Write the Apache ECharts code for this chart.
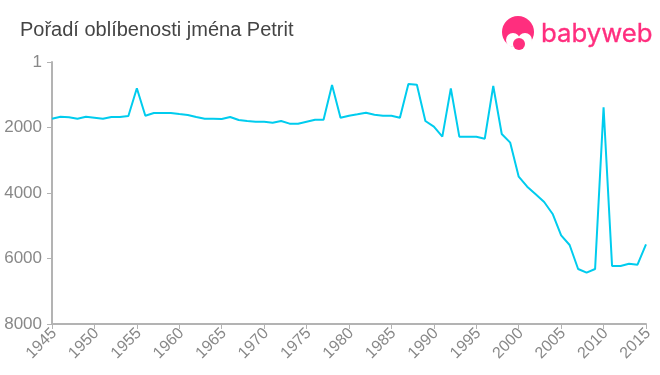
<!DOCTYPE html>
<html>
<head>
<meta charset="utf-8">
<style>
  html, body { margin: 0; padding: 0; background: #fff; }
  #chart { width: 660px; height: 375px; }
</style>
<script src="https://cdn.jsdelivr.net/npm/echarts@6/dist/echarts.min.js"></script>
</head>
<body>
<div id="chart"></div>
<script>
const years = [];
for (let y = 1945; y <= 2015; y++) years.push(String(y));

const ranks = [
  1731, 1670, 1689, 1731, 1670, 1700, 1731, 1679, 1679, 1649,
  803, 1639, 1557, 1557, 1557, 1588, 1618, 1679, 1731, 1731,
  1740, 1679, 1771, 1802, 1822, 1828, 1853, 1802, 1883, 1883,
  1822, 1761, 1761, 702, 1700, 1639, 1598, 1547, 1608, 1639,
  1639, 1700, 672, 692, 1802, 1975, 2280, 803, 2280, 2280,
  2280, 2341, 733, 2198, 2463, 3501, 3807, 4041, 4275, 4641,
  5292, 5588, 6321, 6433, 6321, 1384, 6229, 6229, 6158, 6188,
  5567,
];

const title = "Pořadí oblíbenosti jména Petrit";
const brand = "babyweb";
const pink = "#ff2e7e";

const myChart = echarts.init(document.getElementById("chart"));

myChart.setOption({
  animation: false,
  title: {
    text: title,
    left: 15,
    top: 15,
    textStyle: {
      color: "#444",
      fontFamily: "Liberation Sans",
      fontSize: 20,
      fontWeight: "normal",
    },
  },
  grid: { left: 52, right: 14, top: 62, bottom: 51 },
  xAxis: {
    type: "category",
    data: years,
    boundaryGap: false,
    position: "bottom",
    axisLine: { onZero: false, lineStyle: { color: "#b3b3b3", width: 2 } },
    axisTick: { alignWithLabel: true, interval: 4, length: 5, lineStyle: { color: "#b3b3b3", width: 1 } },
    axisLabel: {
      interval: 4,
      rotate: 45,
      color: "#888",
      fontFamily: "Liberation Sans",
      fontSize: 16,
      margin: 9,
      padding: [0, -3, 0, 0],
    },
  },
  yAxis: {
    type: "value",
    inverse: true,
    min: 0,
    max: 8000,
    interval: 2000,
    axisLine: { show: true, lineStyle: { color: "#b3b3b3", width: 2 } },
    axisTick: { show: true, length: 5, lineStyle: { color: "#b3b3b3", width: 1 } },
    splitLine: { show: false },
    axisLabel: {
      color: "#888",
      fontFamily: "Liberation Sans",
      fontSize: 17,
      margin: 10,
      formatter: (v) => (v === 0 ? "1" : String(v)),
    },
  },
  series: [
    {
      type: "line",
      data: ranks,
      symbol: "none",
      lineStyle: { color: "#00ccee", width: 2 },
    },
  ],
  graphic: [
    { type: "circle", shape: { cx: 518, cy: 32, r: 16 }, style: { fill: pink } },
    { type: "circle", shape: { cx: 513, cy: 40, r: 7 }, style: { fill: "#fff" } },
    { type: "circle", shape: { cx: 525, cy: 40, r: 7 }, style: { fill: "#fff" } },
    { type: "rect", shape: { x: 500, y: 47, width: 36, height: 6 }, style: { fill: "#fff" } },
    { type: "circle", shape: { cx: 519, cy: 44, r: 6 }, style: { fill: pink } },
    {
      type: "text",
      x: 541,
      y: 34,
      scaleX: 1.03,
      style: {
        text: brand,
        fill: pink,
        stroke: pink,
        lineWidth: 0.3,
        font: '25px "Inter"',
        verticalAlign: "middle",
      },
    },
  ],
});
</script>
</body>
</html>
